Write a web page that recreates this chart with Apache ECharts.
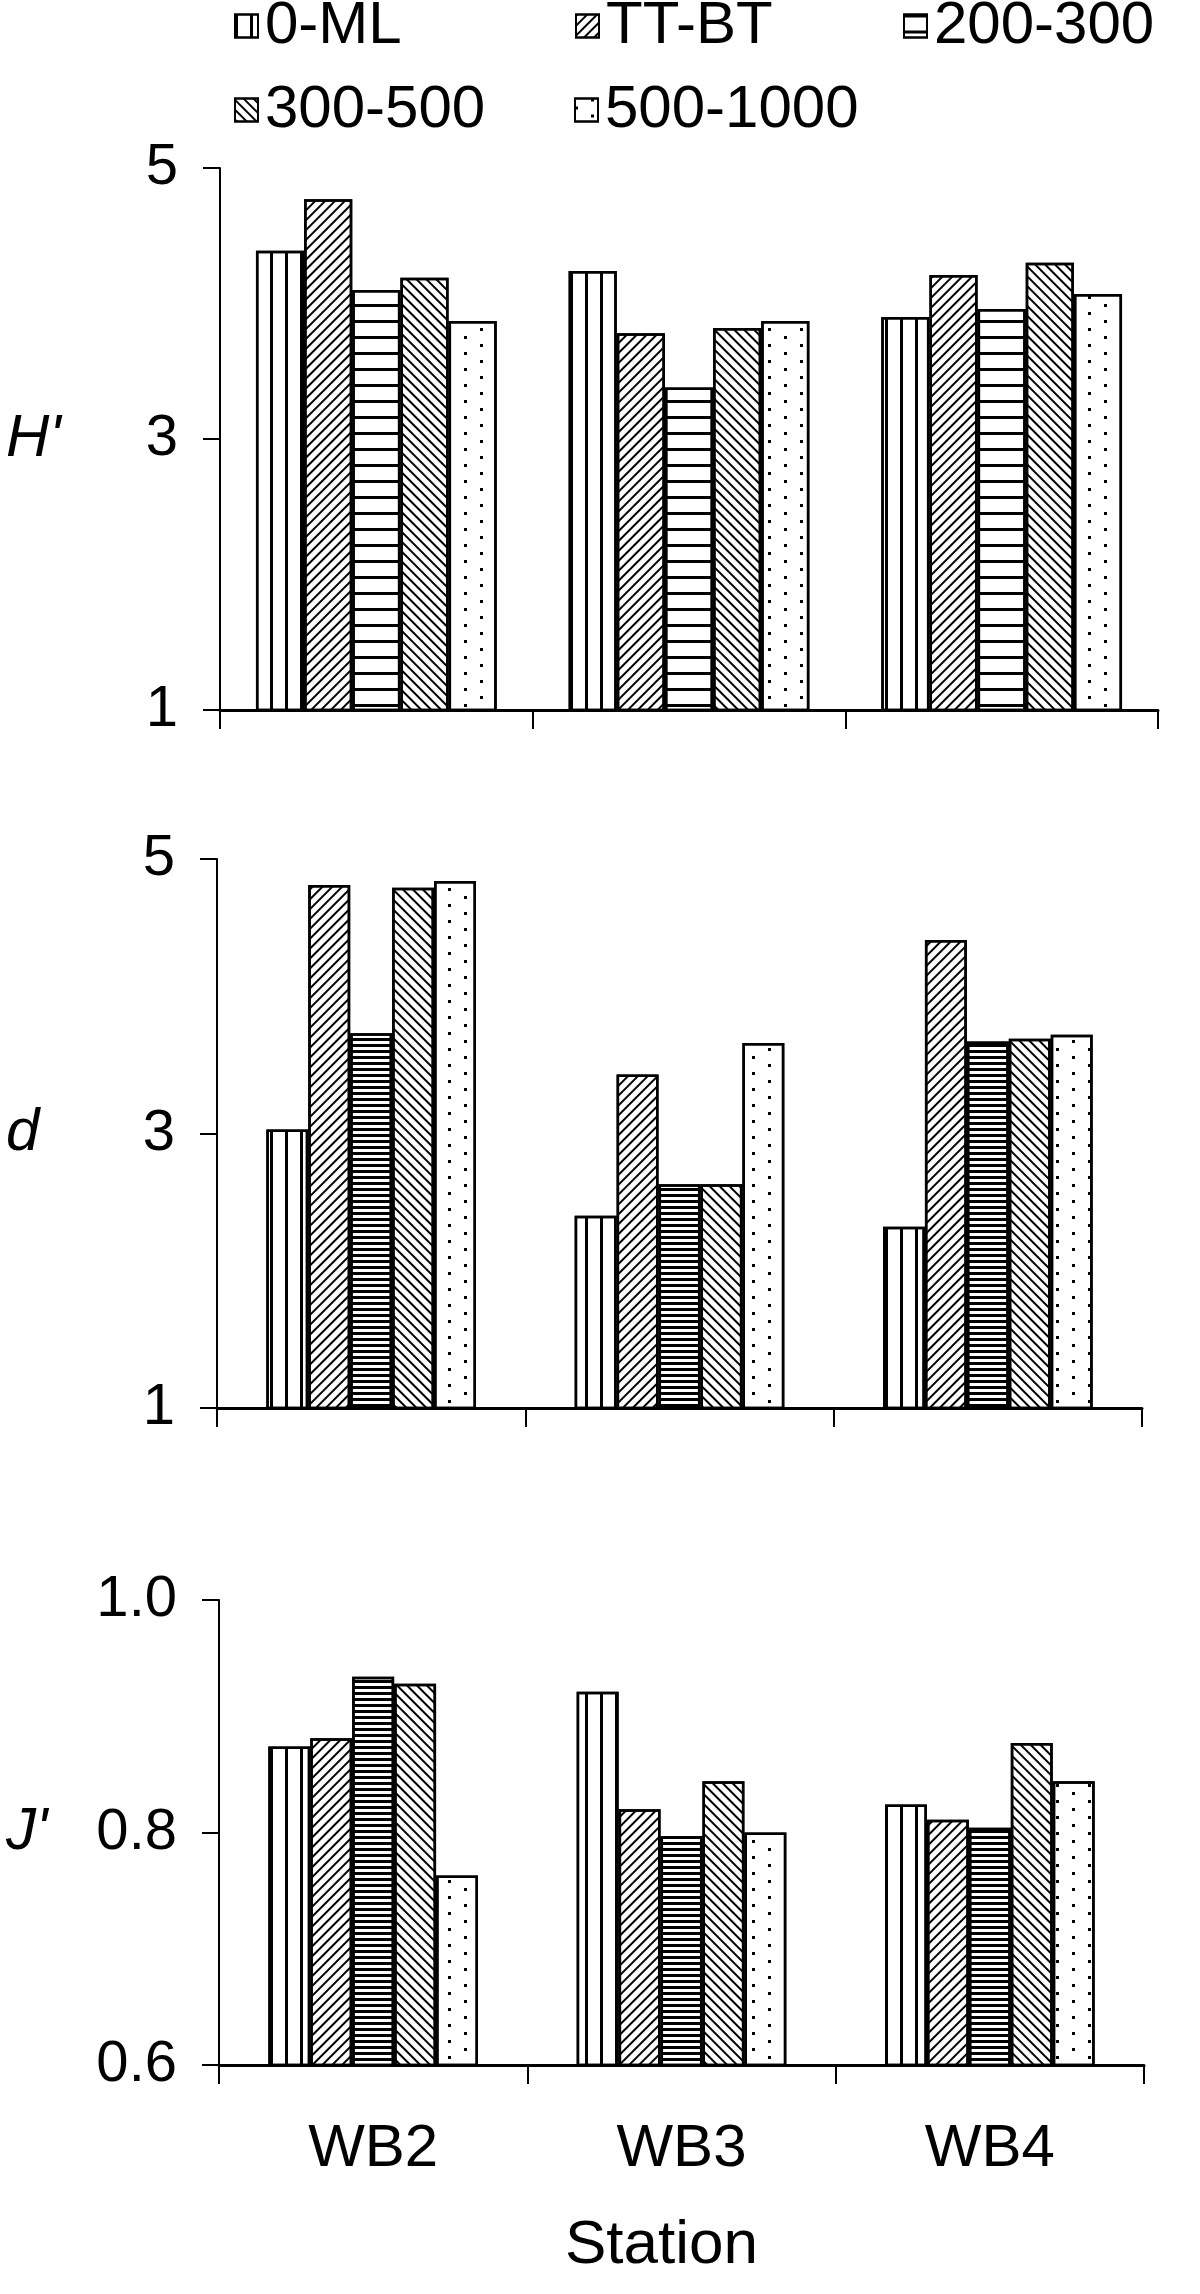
<!DOCTYPE html>
<html>
<head>
<meta charset="utf-8">
<script src="https://cdn.jsdelivr.net/npm/echarts@6/dist/echarts.min.js"></script>
<style>
  html, body { margin: 0; padding: 0; background: #fff; }
  #chart { width: 1200px; height: 2294px; }
</style>
</head>
<body>
<div id="chart"></div>
<script>
const stations = ["WB2", "WB3", "WB4"];
const depths = ["0-ML", "TT-BT", "200-300", "300-500", "500-1000"];

// H' (diversity)
const hDiv = {
  "0-ML": [4.39, 4.24, 3.9],
  "TT-BT": [4.77, 3.78, 4.21],
  "200-300": [4.1, 3.38, 3.96],
  "300-500": [4.19, 3.82, 4.3],
  "500-1000": [3.87, 3.87, 4.07],
};
// d (richness)
const dRich = {
  "0-ML": [3.03, 2.4, 2.32],
  "TT-BT": [4.81, 3.43, 4.41],
  "200-300": [3.73, 2.63, 3.67],
  "300-500": [4.79, 2.63, 3.69],
  "500-1000": [4.84, 3.66, 3.72],
};
// J' (evenness)
const jEven = {
  "0-ML": [0.874, 0.921, 0.824],
  "TT-BT": [0.881, 0.82, 0.811],
  "200-300": [0.934, 0.797, 0.804],
  "300-500": [0.928, 0.844, 0.877],
  "500-1000": [0.763, 0.8, 0.844],
};

// [min, max, interval]
const hTicks = [1, 5, 2];
const dTicks = [1, 5, 2];
const jTicks = [0.6, 1.0, 0.2];

// original uses a narrow Helvetica; use the narrow Liberation face if it is installed
const hasFont = (name) => {
  const ctx = document.createElement("canvas").getContext("2d");
  const sample = "0-ML WB2 Station 500-1000";
  ctx.font = "40px monospace";
  const w0 = ctx.measureText(sample).width;
  ctx.font = `40px "${name}", monospace`;
  return ctx.measureText(sample).width !== w0;
};
const narrow = hasFont("Liberation Sans Narrow");
const FONT = narrow ? '"Liberation Sans Narrow", "Liberation Sans", sans-serif' : '"Liberation Sans", Arial, sans-serif';
const fs = narrow
  ? { legend: 72, tick: 62, cat: 72, title: 74, yname: 66 }
  : { legend: 60, tick: 58, cat: 60, title: 62, yname: 60 };

// hatch patterns; the lower two panels have tighter horizontal stripes
const makeDecal = (name, dense) => {
  const base = { symbol: "rect", symbolSize: 1, color: "#000", backgroundColor: null };
  switch (name) {
    case "0-ML":
      return { ...base, dashArrayX: [3, 12], dashArrayY: [1, 0] };
    case "TT-BT":
      return { ...base, dashArrayX: [1, 0], dashArrayY: [2, 5], rotation: -Math.PI / 4 };
    case "200-300":
      return { ...base, dashArrayX: [1, 0], dashArrayY: dense ? [3, 3] : [3, 13] };
    case "300-500":
      return { ...base, dashArrayX: [1, 0], dashArrayY: [2, 5], rotation: Math.PI / 4 };
    default:
      return { ...base, dashArrayX: [[3, 29], [0, 16, 3, 13]], dashArrayY: [3, 5] };
  }
};

const grids = [
  { left: 220, right: 42, top: 168, height: 542 },
  { left: 217, right: 58, top: 859, height: 549 },
  { left: 219, right: 56, top: 1600, height: 465 },
];

const panels = [
  { data: hDiv, ticks: hTicks, name: "H'", gap: "23%", dense: false, digits: 0 },
  { data: dRich, ticks: dTicks, name: "d", gap: "32%", dense: true, digits: 0 },
  { data: jEven, ticks: jTicks, name: "J'", gap: "32%", dense: true, digits: 1 },
];

const xAxes = panels.map((p, i) => ({
  type: "category",
  gridIndex: i,
  data: stations,
  axisLine: { lineStyle: { color: "#000", width: 3 } },
  axisTick: { show: true, length: 19, lineStyle: { color: "#000", width: 2 } },
  axisLabel: {
    show: i === 2,
    margin: 54,
    fontSize: fs.cat,
    fontFamily: FONT,
    color: "#000",
  },
  name: i === 2 ? "Station" : "",
  nameLocation: "middle",
  nameGap: 150,
  nameTextStyle: { fontSize: fs.title, fontFamily: FONT, color: "#000", padding: [0, 40, 0, 0] },
}));

const yAxes = panels.map((p, i) => ({
  type: "value",
  gridIndex: i,
  min: p.ticks[0],
  max: p.ticks[1],
  interval: p.ticks[2],
  splitLine: { show: false },
  axisLine: { show: true, lineStyle: { color: "#000", width: 2 } },
  axisTick: { show: true, length: 17, lineStyle: { color: "#000", width: 2 } },
  axisLabel: {
    margin: 42,
    fontSize: fs.tick,
    fontFamily: FONT,
    color: "#000",
    formatter: (v) => v.toFixed(p.digits),
  },
  name: p.name,
  nameLocation: "middle",
  nameRotate: 0,
  nameGap: grids[i].left - 6,
  nameTextStyle: { fontSize: fs.yname, fontStyle: "italic", fontFamily: FONT, color: "#000", align: "left" },
}));

const series = [];
panels.forEach((p, i) => {
  depths.forEach((dep) => {
    series.push({
      name: dep,
      type: "bar",
      xAxisIndex: i,
      yAxisIndex: i,
      data: p.data[dep],
      barGap: "0%",
      barCategoryGap: p.gap,
      itemStyle: {
        color: "#fff",
        borderColor: "#000",
        borderWidth: 2.5,
        decal: makeDecal(dep, p.dense),
      },
    });
  });
});

// one legend block per item so each sits where the original puts it
const legendPos = [
  { name: "0-ML", left: 234, top: -4 },
  { name: "TT-BT", left: 575, top: -4 },
  { name: "200-300", left: 903, top: -4 },
  { name: "300-500", left: 234, top: 80 },
  { name: "500-1000", left: 574, top: 80 },
];
const legends = legendPos.map((l) => ({
  data: [l.name],
  left: l.left,
  top: l.top,
  padding: 0,
  icon: "rect",
  itemWidth: 23,
  itemHeight: 23,
  selectedMode: false,
  textStyle: { fontSize: fs.legend, fontFamily: FONT, color: "#000", padding: [0, 0, 0, 2] },
}));

const chart = echarts.init(document.getElementById("chart"), null, { renderer: "canvas" });
chart.setOption({
  animation: false,
  backgroundColor: "#fff",
  legend: legends,
  grid: grids,
  xAxis: xAxes,
  yAxis: yAxes,
  series: series,
});
</script>
</body>
</html>
